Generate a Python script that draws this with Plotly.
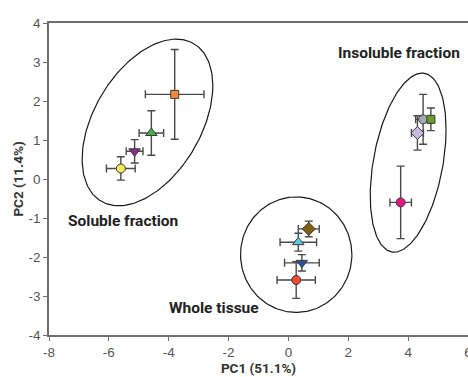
import numpy as np
import plotly.graph_objects as go

# ---- data ----
names = ["Sol-1", "Sol-2", "Sol-3", "Sol-4",
         "Whole-1", "Whole-2", "Whole-3", "Whole-4",
         "Insol-1", "Insol-2", "Insol-3", "Insol-4"]
pc1 = [-3.80, -4.58, -5.14, -5.60,
       0.68, 0.33, 0.45, 0.26,
       4.50, 4.76, 4.31, 3.75]
pc1_err = [0.98, 0.41, 0.28, 0.48,
           0.35, 0.61, 0.58, 0.64,
           0.25, 0.10, 0.20, 0.36]
pc2 = [2.17, 1.18, 0.71, 0.27,
       -1.28, -1.62, -2.15, -2.59,
       1.53, 1.53, 1.18, -0.60]
pc2_err = [1.15, 0.57, 0.30, 0.30,
           0.20, 0.23, 0.21, 0.47,
           0.64, 0.29, 0.44, 0.93]
symbols = ["square", "triangle-up", "triangle-down", "circle",
           "diamond", "triangle-up", "triangle-down", "circle",
           "circle", "square", "diamond", "circle"]
colors = ["#F58A3C", "#4BAE4F", "#8E2C8E", "#F5EA5A",
          "#7F5F12", "#5BC8E8", "#2850A0", "#EE4B30",
          "#A3AAB2", "#6A9E2A", "#C9B9DD", "#E6157F"]
marker_sizes = {"square": 8, "triangle-up": 10, "triangle-down": 10,
                "circle": 9, "diamond": 10}

x_ticks = [-8, -6, -4, -2, 0, 2, 4, 6]
x_tick_labels = ["-8", "-6", "-4", "-2", "0", "2", "4", "6"]
y_ticks = [4, 3, 2, 1, 0, -1, -2, -3, -4]
y_tick_labels = ["4", "3", "2", "1", "0", "-1", "-2", "-3", "-4"]

group_labels = ["Soluble fraction", "Whole tissue", "Insoluble fraction"]

fig = go.Figure()

# ---- group ellipses (center, covariance-like shape matrix) ----
ellipses = [
    ((-4.71, 1.45), [[4.767, 2.057], [2.057, 4.562]]),
    ((0.26, -1.94), [[1.86 ** 2, 0.0], [0.0, 1.48 ** 2]]),
    ((4.00, 0.42), [[1.604, 1.071], [1.071, 5.266]]),
]
t = np.linspace(0, 2 * np.pi, 200)
for (cx, cy), M in ellipses:
    L = np.linalg.cholesky(np.array(M))
    pts = L @ np.vstack([np.cos(t), np.sin(t)])
    fig.add_trace(go.Scatter(x=cx + pts[0], y=cy + pts[1], mode="lines",
                             line=dict(color="#1a1a1a", width=1.2),
                             hoverinfo="skip", showlegend=False))

# ---- points with error bars ----
for i in range(len(names)):
    fig.add_trace(go.Scatter(
        x=[pc1[i]], y=[pc2[i]], mode="markers", name=names[i],
        marker=dict(symbol=symbols[i], color=colors[i], size=marker_sizes[symbols[i]],
                    line=dict(color="#3a3a3a", width=1)),
        error_x=dict(type="data", array=[pc1_err[i]], color="#4a4a4a",
                     thickness=1.4, width=4),
        error_y=dict(type="data", array=[pc2_err[i]], color="#4a4a4a",
                     thickness=1.4, width=4),
        showlegend=False))

# ---- group labels ----
label_font = dict(family="Roboto, Liberation Sans", size=15.5, color="#222222")
label_pos = [(-7.43, -1.07), (-4.07, -3.31), (1.59, 3.23)]
for txt, (lx, ly) in zip(group_labels, label_pos):
    fig.add_annotation(x=lx, y=ly, text="<b>" + txt + "</b>", showarrow=False,
                       xanchor="left", font=label_font)

axis_common = dict(showline=True, linecolor="#6e6e6e", linewidth=1.5, mirror=True,
                   ticks="outside", tickcolor="#6e6e6e", ticklen=4, tickwidth=1.2,
                   showgrid=False, zeroline=False, automargin=False,
                   ticklabeloverflow="allow",
                   tickfont=dict(family="Liberation Sans, Arial", size=13.5, color="#555555"))
title_font = dict(family="Roboto, Liberation Sans", size=13.5, color="#333333")

fig.update_layout(
    width=468, height=377,
    margin=dict(l=49, r=0, t=23, b=42),
    plot_bgcolor="white", paper_bgcolor="white",
    xaxis=dict(range=[-8, 6], tickvals=x_ticks, ticktext=x_tick_labels,
               title=dict(text="<b>PC1 (51.1%)</b>", standoff=5, font=title_font),
               **axis_common),
    yaxis=dict(range=[-4, 4], tickvals=y_ticks, ticktext=y_tick_labels,
               title=dict(text="<b>PC2 (11.4%)</b>", standoff=2, font=title_font),
               **axis_common),
)

fig.write_html("out.html", config={"displayModeBar": False},
               post_script="document.body.style.margin='0';document.body.style.overflow='hidden';")
